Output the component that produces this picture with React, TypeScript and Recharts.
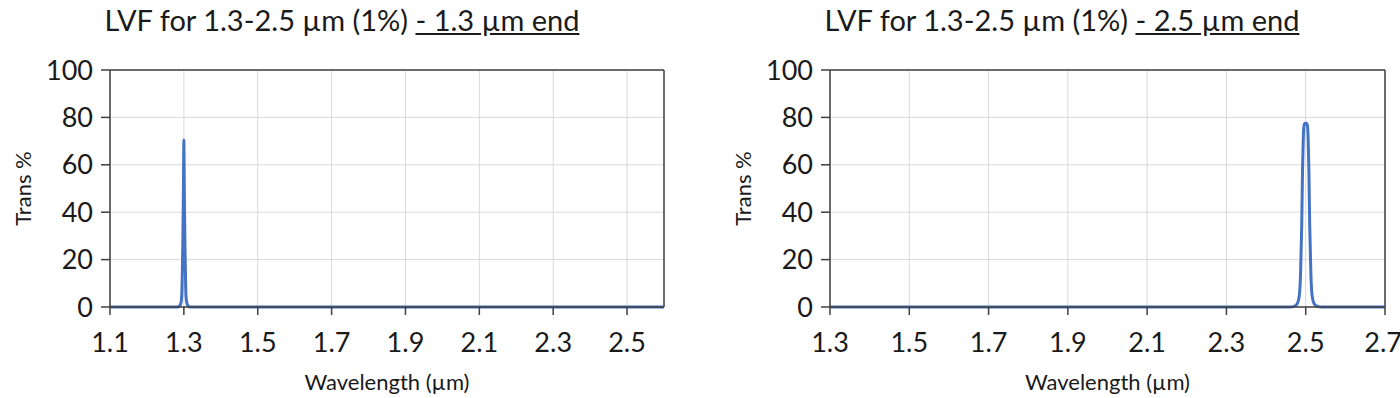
import React from "react";
import {
  LineChart,
  Line,
  XAxis,
  YAxis,
  CartesianGrid,
  ReferenceLine,
} from "recharts";

// ─── Data ────────────────────────────────────────────────────────────────────
const LEFT_WL = [
  1.1, 1.28, 1.286, 1.29, 1.293, 1.295, 1.297, 1.2985, 1.2995, 1.3, 1.3005,
  1.3015, 1.303, 1.305, 1.307, 1.31, 1.314, 1.32, 2.6,
];
const LEFT_T = [
  0, 0, 0.2, 0.8, 2.5, 8, 25, 45, 63, 70.5, 63, 45, 25, 8, 2.5, 0.8, 0.2, 0, 0,
];

const RIGHT_WL = [
  1.3, 2.46, 2.472, 2.479, 2.484, 2.487, 2.49, 2.492, 2.494, 2.496, 2.498,
  2.502, 2.504, 2.506, 2.508, 2.51, 2.513, 2.516, 2.521, 2.528, 2.54, 2.7,
];
const RIGHT_T = [
  0, 0, 0.4, 1.5, 5, 14, 35, 58, 72, 76.8, 77.5, 77.5, 76.8, 72, 58, 35, 14, 5,
  1.5, 0.4, 0, 0,
];

const Y_TICKS = [0, 20, 40, 60, 80, 100];
const LEFT_X_TICKS = [1.1, 1.3, 1.5, 1.7, 1.9, 2.1, 2.3, 2.5];
const RIGHT_X_TICKS = [1.3, 1.5, 1.7, 1.9, 2.1, 2.3, 2.5, 2.7];

const LEFT_TITLE = "LVF for 1.3-2.5 µm (1%) ";
const LEFT_TITLE_U = "- 1.3 µm end";
const RIGHT_TITLE = "LVF for 1.3-2.5 µm (1%) ";
const RIGHT_TITLE_U = "- 2.5 µm end";

// ─── Styles ──────────────────────────────────────────────────────────────────
const FONT = "Lato, 'Open Sans', sans-serif";
const AXIS = "#404040";
const GRID = "#d9d9d9";
const BLUE = "#4472C4";
const TEXT = "#1a1a1a";

interface PanelProps {
  wl: number[];
  t: number[];
  xTicks: number[];
  domain: [number, number];
  yAxisWidth: number;
  titleX: number;
  right: number;
}

function Panel({ wl, t, xTicks, domain, yAxisWidth, titleX, right }: PanelProps) {
  const data = wl.map((w, i) => ({ w, t: t[i] }));
  const tick = { fontSize: 27, fill: TEXT, fontFamily: FONT };

  return (
    <LineChart
      width={700}
      height={398}
      data={data}
      margin={{ top: 70, right, bottom: 0, left: 0 }}
      style={{ overflow: "visible" }}
    >
      <CartesianGrid stroke={GRID} strokeWidth={1} />
      <XAxis
        dataKey="w"
        type="number"
        domain={domain}
        ticks={xTicks}
        height={91}
        tick={tick}
        tickSize={8}
        tickMargin={18}
        stroke={AXIS}
        strokeWidth={1.5}
        tickFormatter={(v) => v.toFixed(1)}
        allowDataOverflow
        label={{
          content: (p: any) => {
            const { x, y, width } = p.viewBox;
            return (
              <text
                x={x + width / 2}
                y={y + 83}
                textAnchor="middle"
                fontSize={22}
                fontFamily={FONT}
                fill={TEXT}
              >
                Wavelength (µm)
              </text>
            );
          },
        }}
      />
      <YAxis
        type="number"
        domain={[0, 100]}
        ticks={Y_TICKS}
        width={yAxisWidth}
        tick={tick}
        tickSize={9}
        tickMargin={8}
        stroke={AXIS}
        strokeWidth={1.5}
        label={{
          content: (p: any) => {
            const { x, y, height } = p.viewBox;
            const cx = x + titleX;
            const cy = y + height / 2;
            return (
              <text
                x={cx}
                y={cy}
                transform={`rotate(-90 ${cx} ${cy})`}
                textAnchor="middle"
                dominantBaseline="central"
                fontSize={22}
                fontFamily={FONT}
                fill={TEXT}
              >
                Trans %
              </text>
            );
          },
        }}
      />
      <ReferenceLine y={100} stroke={AXIS} strokeWidth={1.5} />
      <ReferenceLine x={domain[1]} stroke={AXIS} strokeWidth={1.5} />
      <Line
        dataKey="t"
        type="monotone"
        stroke={BLUE}
        strokeWidth={3}
        dot={false}
        isAnimationActive={false}
      />
    </LineChart>
  );
}

function Title({ text, under, left }: { text: string; under: string; left: number }) {
  return (
    <div
      style={{
        position: "absolute",
        top: 2,
        left,
        width: 700,
        textAlign: "center",
        fontFamily: FONT,
        fontSize: 29,
        color: TEXT,
        whiteSpace: "pre",
      }}
    >
      {text}
      <span style={{ textDecoration: "underline" }}>{under}</span>
    </div>
  );
}

export default function App() {
  return (
    <div
      style={{
        position: "absolute",
        left: 0,
        top: 0,
        width: 1400,
        height: 398,
        overflow: "hidden",
        background: "#fff",
      }}
    >
      <div style={{ position: "absolute", left: 0, top: 0 }}>
        <Panel
          wl={LEFT_WL}
          t={LEFT_T}
          xTicks={LEFT_X_TICKS}
          domain={[1.1, 2.6]}
          yAxisWidth={110}
          titleX={22}
          right={36}
        />
      </div>
      <div style={{ position: "absolute", left: 700, top: 0 }}>
        <Panel
          wl={RIGHT_WL}
          t={RIGHT_T}
          xTicks={RIGHT_X_TICKS}
          domain={[1.3, 2.7]}
          yAxisWidth={130}
          titleX={42}
          right={15}
        />
      </div>
      <Title text={LEFT_TITLE} under={LEFT_TITLE_U} left={-8} />
      <Title text={RIGHT_TITLE} under={RIGHT_TITLE_U} left={712} />
    </div>
  );
}
